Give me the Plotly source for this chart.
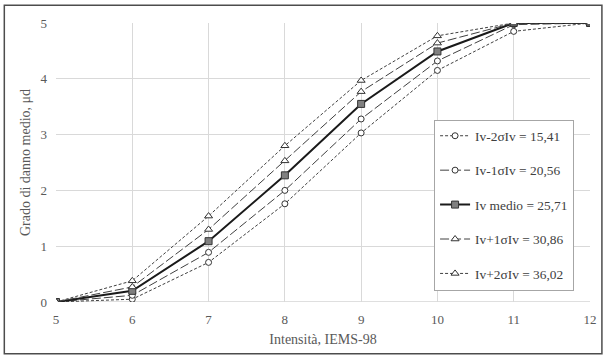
import plotly.graph_objects as go

intensity = [5, 6, 7, 8, 9, 10, 11, 12]
names = ["Iv-2σIv = 15,41", "Iv-1σIv = 20,56", "Iv medio = 25,71", "Iv+1σIv = 30,86", "Iv+2σIv = 36,02"]
m2 = [0, 0.05, 0.71, 1.76, 3.03, 4.15, 4.85, 5]
m1 = [0, 0.12, 0.89, 2.00, 3.28, 4.32, 4.97, 5]
med = [0, 0.20, 1.09, 2.27, 3.55, 4.49, 5.0, 5]
p1 = [0, 0.27, 1.30, 2.53, 3.77, 4.64, 5.0, 5]
p2 = [0, 0.38, 1.54, 2.80, 3.97, 4.77, 5.0, 5]
series = [m2, m1, med, p1, p2]

styles = [
    dict(dash="3px,2px", width=1, symbol="circle", fill="white", msize=6),
    dict(dash="9px,3px", width=1, symbol="circle", fill="white", msize=6),
    dict(dash="solid", width=2, symbol="square", fill="#808080", msize=7),
    dict(dash="9px,3px", width=1, symbol="triangle-up", fill="white", msize=7),
    dict(dash="3px,2px", width=1, symbol="triangle-up", fill="white", msize=7),
]

fig = go.Figure()
for i, (n, s, st) in enumerate(zip(names, series, styles)):
    fig.add_trace(go.Scatter(
        x=intensity, y=s, name=n, mode="lines+markers",
        legendgroup=str(i), hoverinfo="skip",
        line=dict(color="#1a1a1a" if i == 2 else "#404040", width=st["width"], dash=st["dash"]),
        marker=dict(symbol=st["symbol"], size=st["msize"], color=st["fill"],
                    line=dict(color="#333333", width=1)),
    ))

font_fam = "Liberation Serif, Times New Roman, serif"
fig.update_layout(
    width=609, height=357,
    margin=dict(l=56, r=16, t=23, b=54),
    paper_bgcolor="white", plot_bgcolor="white",
    font=dict(family=font_fam, size=13, color="#595959"),
    showlegend=True, hovermode=False,
    legend=dict(x=0.708, y=0.654, xanchor="left", yanchor="top",
                bgcolor="white", bordercolor="#a6a6a6", borderwidth=1,
                font=dict(family=font_fam, size=13.4, color="#404040"),
                traceorder="grouped", tracegroupgap=14, itemwidth=30),
    xaxis=dict(range=[5, 12], tickvals=intensity, showgrid=True, gridcolor="#d9d9d9",
               zeroline=False, showline=False, ticks="", ticklabelstandoff=8,
               title=dict(text="Intensità, IEMS-98", font=dict(size=14, color="#595959"), standoff=8),
               tickfont=dict(size=13, color="#595959")),
    yaxis=dict(range=[0, 5], tickvals=[0, 1, 2, 3, 4, 5], showgrid=True, gridcolor="#d9d9d9",
               zeroline=False, showline=False, ticks="", ticklabelstandoff=8,
               title=dict(text="Grado di danno medio, μd", font=dict(size=14, color="#595959"), standoff=6),
               tickfont=dict(size=13, color="#595959")),
    shapes=[dict(type="rect", xref="paper", yref="paper",
                 x0=-0.0968, x1=1.0223, y0=-0.1857, y1=1.064,
                 line=dict(color="#4d4d4d", width=1.5), layer="below")],
)
fig.add_shape(type="line", xref="paper", yref="y", x0=0, x1=1, y0=0, y1=0,
              line=dict(color="#bfbfbf", width=1), layer="below")
fig.write_html("out.html", config={"displayModeBar": False},
               post_script="document.body.style.margin='0';document.body.style.padding='0';")
